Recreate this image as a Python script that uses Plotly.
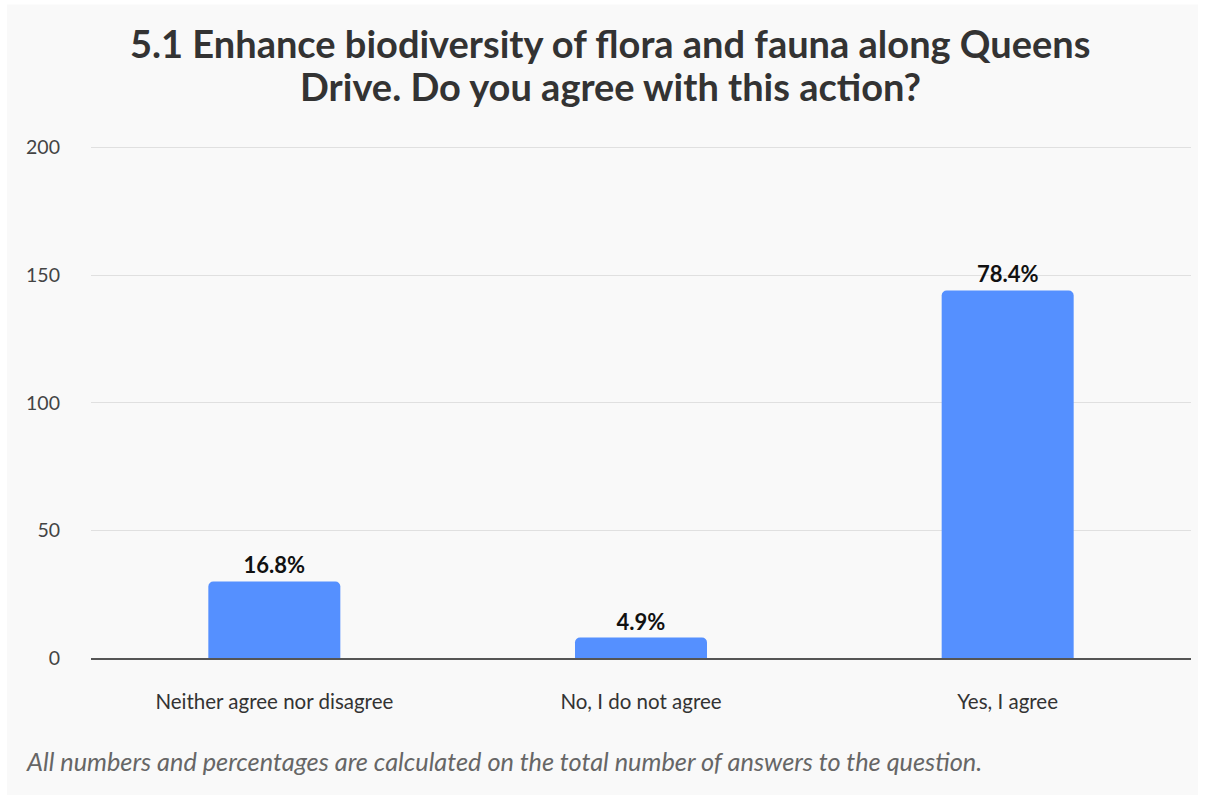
import plotly.graph_objects as go

# Survey responses for question 5.1
categories = ["Neither agree nor disagree", "No, I do not agree", "Yes, I agree"]
counts = [30, 8, 144]
percent_labels = ["16.8%", "4.9%", "78.4%"]
y_ticks = [0, 50, 100, 150, 200]
title_lines = [
    "5.1 Enhance biodiversity of flora and fauna along Queens",
    "Drive. Do you agree with this action?",
]

FONT = "Lato"
PANEL = "#f9f9f9"
W, H = 1205, 800
Y_TOP = 201  # a little headroom so the 200 gridline is drawn
L, R, B = 91, 14, 142
ph = 510 * Y_TOP / 200
T = H - B - ph
pw = W - L - R


def px_x(x):
    return (x - L) / pw


def px_y(y):
    return (H - B - y) / ph


fig = go.Figure(
    go.Bar(
        x=categories,
        y=counts,
        text=percent_labels,
        textposition="outside",
        cliponaxis=False,
        textfont=dict(family=FONT, size=22, color="#111111", weight="bold"),
        marker=dict(color="#5590ff", cornerradius=5, line=dict(width=0)),
        hoverinfo="x+y",
    )
)

title_annotations = [
    dict(
        text=f"<b>{line}</b>",
        xref="paper", yref="paper", x=px_x(610), y=px_y(yc),
        xanchor="center", yanchor="middle", showarrow=False,
        font=dict(family=FONT, size=38, color="#333333"),
    )
    for line, yc in zip(title_lines, [44, 87])
]

fig.update_layout(
    width=W,
    height=H,
    margin=dict(l=L, r=R, t=T, b=B, pad=0),
    paper_bgcolor="white",
    plot_bgcolor=PANEL,
    bargap=0.64,
    showlegend=False,
    font=dict(family=FONT, color="#333333"),
    shapes=[
        dict(
            type="rect", xref="paper", yref="paper", layer="below",
            x0=px_x(7), x1=px_x(1198), y0=px_y(795), y1=px_y(5),
            fillcolor=PANEL, line=dict(width=0),
        )
    ],
    annotations=title_annotations + [
        dict(
            text="<i>All numbers and percentages are calculated on the total number of answers to the question.</i>",
            xref="paper", yref="paper", x=px_x(24), y=px_y(761),
            xanchor="left", yanchor="middle", showarrow=False,
            font=dict(family=FONT, size=25.3, color="#666666"),
        ),
    ],
)

fig.update_xaxes(
    showgrid=False,
    showline=True,
    linecolor="#555555",
    linewidth=2,
    ticks="",
    tickfont=dict(family=FONT, size=20.5, color="#333333"),
    ticklabelstandoff=24,
)
fig.update_yaxes(
    range=[0, Y_TOP],
    tickvals=y_ticks,
    showgrid=True,
    gridcolor="#e0e0e0",
    gridwidth=1,
    zeroline=False,
    showline=False,
    ticks="",
    tickfont=dict(family=FONT, size=19.5, color="#444444"),
    ticklabelstandoff=30,
)

fig.write_html("out.html")
